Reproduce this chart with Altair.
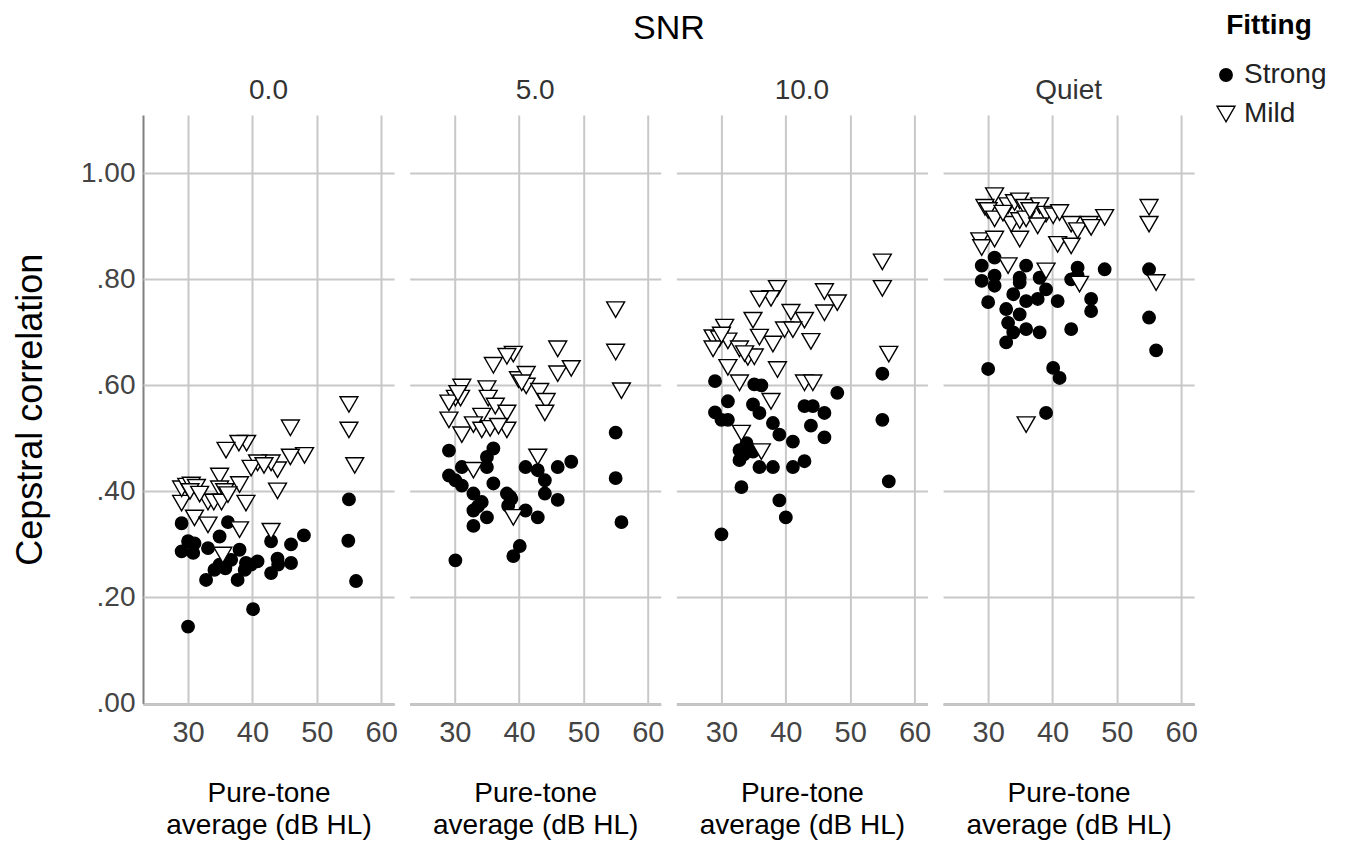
import altair as alt
import pandas as pd

SNR_LEVELS = ["0.0", "5.0", "10.0", "Quiet"]
FITTINGS = ["Strong", "Mild"]

# SNR 0 dB
SNR0_STRONG_PTA = [55.0, 54.9, 56.1, 48.0, 46.0, 46.0, 43.9, 42.9, 42.9, 40.8, 39.0, 38.0, 37.7, 36.7, 36.2, 34.9,
                   34.1, 32.8, 33.1, 31.0, 30.8, 29.0, 29.0, 30.0, 34.9, 40.1, 30.0, 38.8, 44.0, 35.8, 39.8]
SNR0_STRONG_CC = [.385, .307, .231, .317, .300, .265, .273, .306, .246, .268, .265, .290, .233, .271, .342, .315,
                  .252, .233, .293, .302, .284, .287, .340, .306, .262, .178, .145, .252, .262, .255, .262]
SNR0_MILD_PTA = [55.0, 55.0, 55.9, 45.9, 48.1, 45.9, 43.9, 43.9, 42.9, 40.8, 39.8, 41.8, 39.1, 37.9, 35.9, 34.9,
                 38.0, 39.0, 42.9, 38.0, 31.0, 33.1, 29.0, 29.0, 29.8, 30.5, 31.3, 30.3, 34.9, 35.7, 33.1, 34.0,
                 35.2, 36.2, 35.4, 31.8]
SNR0_MILD_CC = [.564, .516, .449, .520, .468, .465, .441, .401, .454, .454, .444, .449, .491, .491, .478, .429,
                .413, .378, .325, .328, .350, .337, .378, .405, .410, .412, .408, .400, .405, .400, .380, .380,
                .380, .394, .280, .395]

# SNR 5 dB
SNR5_STRONG_PTA = [55.0, 55.0, 55.9, 48.1, 46.0, 42.9, 41.0, 44.0, 44.0, 46.0, 42.9, 41.0, 36.0, 35.0, 35.0, 36.0,
                   29.1, 31.1, 29.1, 30.1, 31.1, 32.9, 34.2, 32.9, 35.0, 32.9, 38.1, 38.8, 38.3, 40.1, 39.1, 30.1,
                   33.6, 38.6]
SNR5_STRONG_CC = [.511, .425, .342, .456, .446, .440, .446, .421, .396, .384, .351, .364, .481, .465, .446, .415,
                  .477, .446, .430, .421, .411, .396, .380, .364, .351, .335, .396, .386, .373, .297, .278, .270,
                  .372, .390]
SNR5_MILD_PTA = [55.0, 55.0, 55.9, 46.0, 46.0, 48.1, 39.1, 38.1, 36.0, 39.9, 41.1, 41.1, 43.2, 44.2, 44.0, 31.1,
                 35.0, 35.2, 30.1, 30.9, 29.1, 29.1, 31.1, 36.3, 38.1, 38.1, 34.2, 32.9, 34.2, 35.5, 36.8, 42.9,
                 32.9, 39.1, 40.4, 30.5]
SNR5_MILD_CC = [.743, .663, .590, .669, .622, .632, .659, .655, .638, .611, .621, .599, .589, .570, .548, .597,
                .594, .576, .576, .576, .567, .535, .507, .561, .548, .516, .542, .526, .516, .519, .523, .465,
                .440, .351, .605, .585]

# SNR 10 dB
SNR10_STRONG_PTA = [55.0, 55.0, 56.0, 48.0, 46.0, 46.0, 42.9, 44.2, 43.9, 42.9, 41.1, 41.1, 38.0, 39.0, 38.0, 35.9,
                    35.1, 36.2, 34.9, 35.9, 29.0, 31.0, 29.0, 30.0, 31.0, 33.9, 32.8, 34.9, 32.8, 33.1, 39.0, 40.0,
                    30.0, 33.5]
SNR10_STRONG_CC = [.622, .535, .419, .586, .548, .502, .561, .561, .524, .457, .446, .494, .446, .507, .529, .446,
                   .602, .600, .564, .548, .608, .570, .549, .535, .535, .491, .478, .475, .459, .408, .383, .351,
                   .319, .470]
SNR10_MILD_PTA = [55.0, 55.0, 56.0, 38.7, 37.7, 35.9, 46.0, 48.0, 46.0, 40.8, 42.9, 39.8, 41.1, 34.9, 43.9, 38.0,
                  35.9, 30.5, 28.7, 29.7, 31.0, 28.7, 32.8, 34.1, 35.1, 31.0, 38.7, 32.8, 42.9, 44.2, 37.7, 33.1,
                  36.2, 30.0, 33.6]
SNR10_MILD_CC = [.833, .783, .659, .783, .764, .763, .777, .756, .737, .738, .723, .705, .705, .723, .683, .678,
                 .691, .710, .690, .688, .684, .669, .669, .653, .654, .634, .630, .605, .605, .605, .570, .510,
                 .475, .695, .660]

# Quiet
QUIET_STRONG_PTA = [55.0, 55.0, 56.1, 48.1, 46.0, 46.0, 43.9, 43.9, 42.9, 42.9, 40.8, 39.0, 38.0, 37.7, 35.9, 34.9,
                    34.9, 33.9, 35.9, 34.9, 32.8, 33.1, 33.9, 32.8, 35.9, 38.0, 31.0, 29.0, 29.0, 31.0, 31.0, 30.0,
                    30.0, 40.1, 41.1, 39.0]
QUIET_STRONG_CC = [.819, .728, .666, .819, .763, .740, .822, .807, .800, .706, .759, .781, .803, .763, .826, .803,
                   .794, .772, .759, .734, .744, .718, .700, .681, .706, .700, .841, .826, .797, .807, .788, .757,
                   .631, .633, .614, .548]
QUIET_MILD_PTA = [31.0, 29.5, 30.0, 31.0, 33.1, 34.1, 34.9, 35.7, 33.6, 34.9, 35.9, 38.0, 39.0, 40.1, 41.1, 37.7,
                  34.9, 28.7, 29.0, 31.0, 40.8, 42.9, 42.9, 43.9, 45.7, 46.0, 48.1, 55.0, 55.0, 56.1, 33.1, 39.0,
                  44.2, 35.9, 36.5, 32.3]
QUIET_MILD_CC = [.958, .936, .930, .914, .939, .945, .948, .936, .904, .911, .914, .939, .923, .920, .926, .901,
                 .876, .873, .860, .876, .866, .863, .904, .892, .904, .898, .917, .936, .904, .794, .826, .816,
                 .791, .526, .930, .925]

SERIES = [
    ("0.0", "Strong", SNR0_STRONG_PTA, SNR0_STRONG_CC),
    ("0.0", "Mild", SNR0_MILD_PTA, SNR0_MILD_CC),
    ("5.0", "Strong", SNR5_STRONG_PTA, SNR5_STRONG_CC),
    ("5.0", "Mild", SNR5_MILD_PTA, SNR5_MILD_CC),
    ("10.0", "Strong", SNR10_STRONG_PTA, SNR10_STRONG_CC),
    ("10.0", "Mild", SNR10_MILD_PTA, SNR10_MILD_CC),
    ("Quiet", "Strong", QUIET_STRONG_PTA, QUIET_STRONG_CC),
    ("Quiet", "Mild", QUIET_MILD_PTA, QUIET_MILD_CC),
]

rows = []
for snr, fit, ptas, ccs in SERIES:
    for p, c in zip(ptas, ccs):
        rows.append({"snr": snr, "fitting": fit, "pta": p, "cc": c})
df = pd.DataFrame(rows)

FONT = "Liberation Sans"

# one shared legend definition so shape, fill, stroke and size merge into a single "Fitting" legend
legend = alt.Legend(
    title="Fitting", orient="none", legendX=1069, legendY=-103,
    titleFontSize=28, titleFontWeight="bold", titleFont=FONT, titleColor="black",
    titleAnchor="middle", titlePadding=21,
    labelFontSize=28, labelFont=FONT, labelColor="#222222",
    symbolStrokeWidth=1.4, rowPadding=11,
)

chart = alt.Chart(df).mark_point(
    filled=True, opacity=1, strokeWidth=1.4
).encode(
    x=alt.X("pta:Q",
            scale=alt.Scale(domain=[23, 62], nice=False, zero=False),
            axis=alt.Axis(values=[30, 40, 50, 60], title=["Pure-tone", "average (dB HL)"],
                          labelFontSize=29, labelPadding=14, titlePadding=32,
                          titleFontSize=28, titleFontWeight="normal", titleLineHeight=32)),
    y=alt.Y("cc:Q",
            scale=alt.Scale(domain=[0, 1.11], nice=False, zero=False),
            axis=alt.Axis(values=[0, 0.2, 0.4, 0.6, 0.8, 1.0], title="Cepstral correlation",
                          labelExpr="datum.value >= 1 ? format(datum.value, '.2f') : substring(format(datum.value, '.2f'), 1)",
                          labelFontSize=28, labelPadding=8, titlePadding=31,
                          titleFontSize=36, titleFontWeight="normal")),
    shape=alt.Shape("fitting:N", scale=alt.Scale(domain=FITTINGS, range=["circle", "triangle-down"]), legend=legend),
    fill=alt.Fill("fitting:N", scale=alt.Scale(domain=FITTINGS, range=["black", "white"]), legend=legend),
    stroke=alt.Stroke("fitting:N", scale=alt.Scale(domain=FITTINGS, range=["black", "black"]), legend=legend),
    size=alt.Size("fitting:N", scale=alt.Scale(domain=FITTINGS, range=[155, 320]), legend=legend),
    order=alt.Order("order:Q"),
    column=alt.Column("snr:N", sort=SNR_LEVELS, title="SNR", spacing=15.7,
                      header=alt.Header(titleFontSize=34, titleFont=FONT, titleFontWeight="normal",
                                        titleColor="black", titlePadding=21,
                                        labelFontSize=28, labelFont=FONT, labelColor="#333333",
                                        labelPadding=10)),
).transform_calculate(
    order="datum.fitting == 'Strong' ? 0 : 1"
).properties(
    width=251, height=588.5
).configure(
    padding={"left": 12, "top": 12, "right": 5, "bottom": 5}
).configure_view(
    stroke=None
).configure_axis(
    grid=True, gridColor="#c8c8c8", gridWidth=2,
    domainColor="#808080", domainWidth=2, ticks=False,
    labelFont=FONT, labelColor="#444444", titleFont=FONT, titleColor="black",
)

chart.save("out.html", embed_options={"renderer": "svg", "actions": False})
